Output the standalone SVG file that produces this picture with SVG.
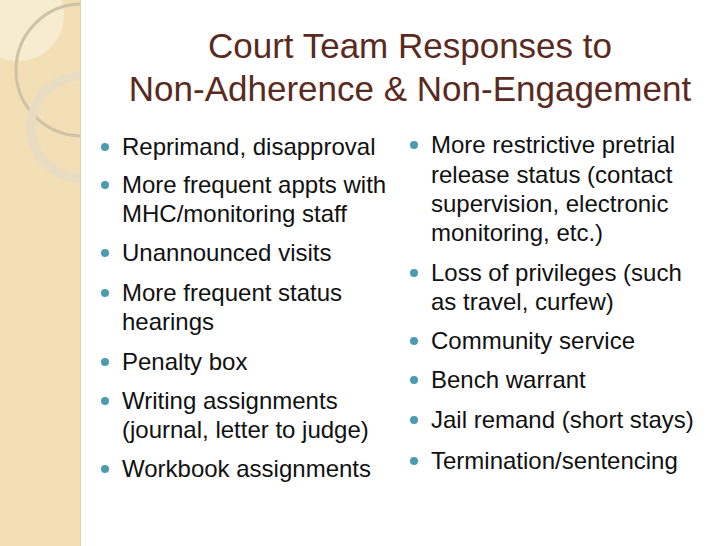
<svg xmlns="http://www.w3.org/2000/svg" width="728" height="546" viewBox="0 0 728 546">
<style>
.t{font-family:"Liberation Sans",Arial,sans-serif;font-size:35px;fill:#5b2a1f;text-anchor:middle}
.b{font-family:"Liberation Sans",Arial,sans-serif;font-size:24px;fill:#111}
.d{fill:#4a9bb0}
</style>
<defs><clipPath id="c"><rect x="0" y="0" width="80" height="546"/></clipPath></defs>
<rect width="728" height="546" fill="#fff"/>
<g id="strip">
<rect x="0" y="0" width="80" height="546" fill="#f2dfb6"/>
<line x1="80.5" y1="0" x2="80.5" y2="546" stroke="#e0cfa8" stroke-width="1"/>
<g clip-path="url(#c)">
<circle cx="18" cy="15" r="46" fill="#fbf1dc" opacity="0.7"/>
<circle cx="82" cy="70" r="66" fill="none" stroke="#cfc2a6" stroke-width="3"/>
<circle cx="82" cy="127" r="51" fill="none" stroke="#e6dcc4" stroke-width="9" opacity="0.85"/>
</g>
</g>
<g id="title">
<text class="t" x="410" y="58">Court Team Responses to</text>
<text class="t" x="410" y="101">Non-Adherence &amp; Non-Engagement</text>
</g>
<g id="left">
<circle class="d" cx="105" cy="147" r="4"/><text class="b" x="122" y="155">Reprimand, disapproval</text>
<circle class="d" cx="105" cy="185" r="4"/><text class="b" x="122" y="193">More frequent appts with</text><text class="b" x="122" y="222">MHC/monitoring staff</text>
<circle class="d" cx="105" cy="253" r="4"/><text class="b" x="122" y="261">Unannounced visits</text>
<circle class="d" cx="105" cy="293" r="4"/><text class="b" x="122" y="301">More frequent status</text><text class="b" x="122" y="330">hearings</text>
<circle class="d" cx="105" cy="362" r="4"/><text class="b" x="122" y="370">Penalty box</text>
<circle class="d" cx="105" cy="401" r="4"/><text class="b" x="122" y="409">Writing assignments</text><text class="b" x="122" y="438">(journal, letter to judge)</text>
<circle class="d" cx="105" cy="469" r="4"/><text class="b" x="122" y="477">Workbook assignments</text>
</g>
<g id="right">
<circle class="d" cx="414" cy="145" r="4"/><text class="b" x="431" y="153">More restrictive pretrial</text><text class="b" x="431" y="183">release status (contact</text><text class="b" x="431" y="212">supervision, electronic</text><text class="b" x="431" y="241">monitoring, etc.)</text>
<circle class="d" cx="414" cy="273" r="4"/><text class="b" x="431" y="281">Loss of privileges (such</text><text class="b" x="431" y="310">as travel, curfew)</text>
<circle class="d" cx="414" cy="341" r="4"/><text class="b" x="431" y="349">Community service</text>
<circle class="d" cx="414" cy="380" r="4"/><text class="b" x="431" y="388">Bench warrant</text>
<circle class="d" cx="414" cy="420" r="4"/><text class="b" x="431" y="428">Jail remand (short stays)</text>
<circle class="d" cx="414" cy="461" r="4"/><text class="b" x="431" y="469">Termination/sentencing</text>
</g>
</svg>
